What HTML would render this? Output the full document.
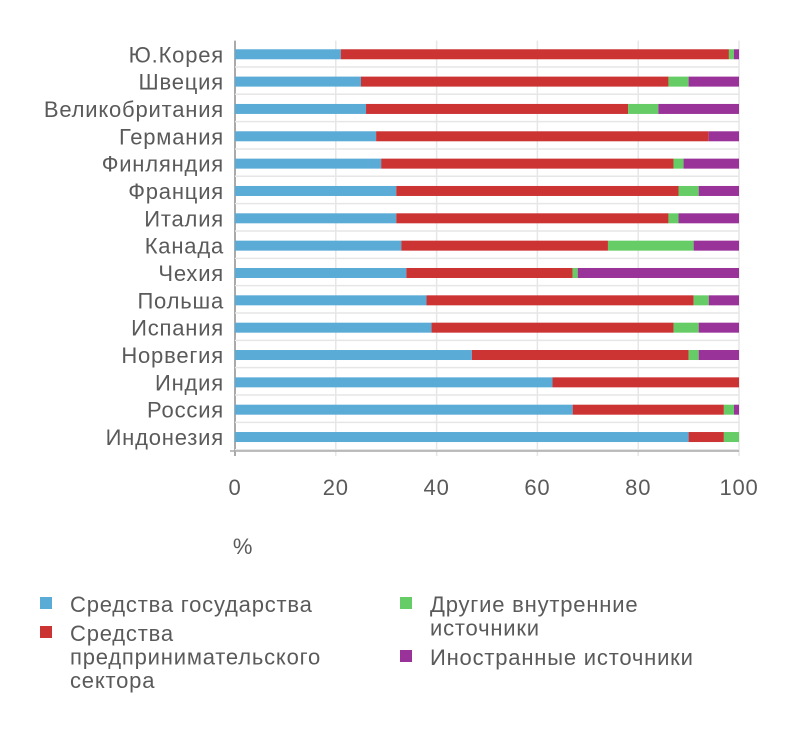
<!DOCTYPE html>
<html><head><meta charset="utf-8"><style>
body{margin:0;background:#fff;width:800px;height:729px;overflow:hidden;font-family:"Liberation Sans",sans-serif;}
svg text{font-family:"Liberation Sans",sans-serif;fill:#5a5a5a;letter-spacing:0.8px;}
</style></head><body>
<svg id="chart" width="800" height="729" xmlns="http://www.w3.org/2000/svg"></svg>
<script>
const categories=["Ю.Корея","Швеция","Великобритания","Германия","Финляндия","Франция","Италия","Канада","Чехия","Польша","Испания","Норвегия","Индия","Россия","Индонезия"];
const govValues=[21,25,26,28,29,32,32,33,34,38,39,47,63,67,90];
const bizValues=[77,61,52,66,58,56,54,41,33,53,48,43,37,30,7];
const otherDomValues=[1,4,6,0,2,4,2,17,1,3,5,2,0,2,3];
const foreignValues=[1,10,16,6,11,8,12,9,32,6,8,8,0,1,0];
const tickValues=[0,20,40,60,80,100];
const seriesNames=["Средства государства","Средства предпринимательского сектора","Другие внутренние источники","Иностранные источники"];
const colors=["#5aabd6","#cc3333","#66cc66","#993399"];
const NS="http://www.w3.org/2000/svg";
const svg=document.getElementById('chart');
const x0=235,x1=739,yTop=40.6,rowH=27.34,barH=10;
const xs=v=>x0+(v/100)*(x1-x0);
const yc=i=>yTop+rowH*i+rowH/2;
function mk(tag,attrs){const e=document.createElementNS(NS,tag);for(const k in attrs)e.setAttribute(k,attrs[k]);svg.appendChild(e);return e;}
tickValues.forEach(t=>{
  const l=mk('line',{x1:xs(t),x2:xs(t),y1:yTop,y2:456,stroke:t===0?'#aaa':'#e6e6e6','stroke-width':t===0?2:1.5});
  
  
  const tx=mk('text',{x:xs(t),y:495,'text-anchor':'middle','font-size':22});
  tx.textContent=t;
  
  
});
for(let i=0;i<categories.length;i++){
  const l=mk('line',{x1:x0,x2:x1,y1:yTop+rowH*(i+1)-1,y2:yTop+rowH*(i+1)-1,stroke:'#e6e6e6','stroke-width':1.5});
  
  
}
const ax=mk('line',{x1:x0-5,x2:x1,y1:451,y2:451,stroke:'#aaa','stroke-width':1.5});


const series=[govValues,bizValues,otherDomValues,foreignValues];
categories.forEach((c,i)=>{
  const lab=mk('text',{x:224,y:yc(i)+8,'text-anchor':'end','font-size':22});
  lab.textContent=c;
  
  
  let acc=0;
  series.forEach((s,k)=>{
    const v=s[i];
    if(v>0){
      const r=mk('rect',{x:xs(acc),y:yc(i)-barH/2,width:xs(acc+v)-xs(acc),height:barH,fill:colors[k]});
      
      
    }
    acc+=v;
  });
});
const pct=mk('text',{x:243,y:554,'text-anchor':'middle','font-size':22});
pct.textContent='%';


const legend=[{x:40,y:604,lines:[seriesNames[0]]},{x:40,y:633,lines:["Средства","предпринимательского","сектора"]},{x:400,y:604,lines:["Другие внутренние","источники"]},{x:400,y:657,lines:[seriesNames[3]]}];
legend.forEach((L,k)=>{
  const sq=mk('rect',{x:L.x,y:L.y-7,width:12,height:12,fill:colors[k]});
  
  
  L.lines.forEach((t,j)=>{
    const tx=mk('text',{x:L.x+30,y:L.y+8+j*23.5,'font-size':22});
    tx.textContent=t;
    
    
  });
});
</script>
</body></html>
